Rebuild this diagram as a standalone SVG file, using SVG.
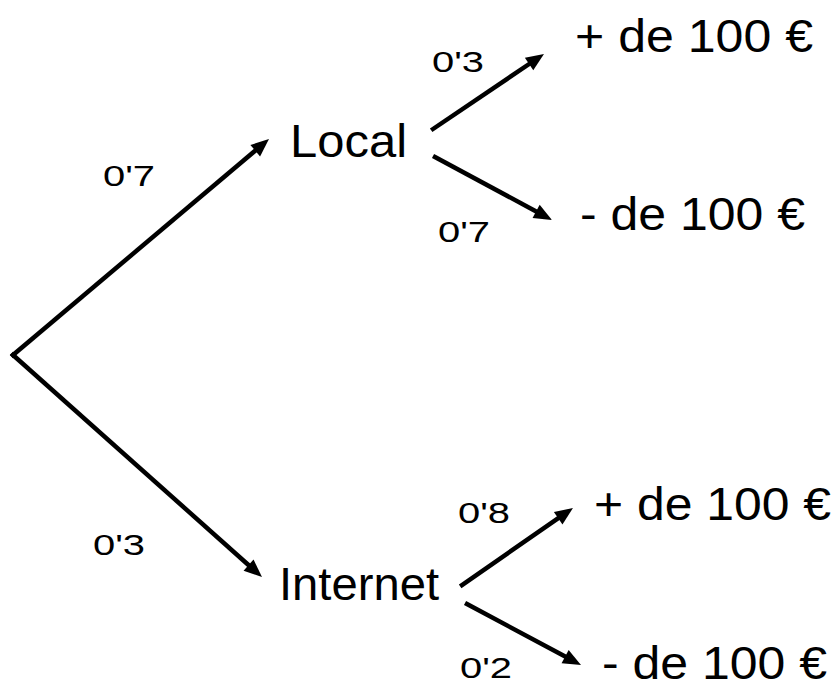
<svg xmlns="http://www.w3.org/2000/svg" width="834" height="686" viewBox="0 0 834 686">
<style>
  .big { font-family: "Liberation Sans", Arial, sans-serif; font-size: 46px; fill: #000; }
  .p { font-family: "Liberation Sans", Arial, sans-serif; font-size: 29px; fill: #000; }
  .edge { fill: none; stroke: #000; stroke-width: 4.5; stroke-linecap: square; marker-end: url(#arr); }
</style>
<defs>
  <marker id="arr" markerUnits="userSpaceOnUse" markerWidth="20" markerHeight="16" refX="1" refY="7.5" orient="auto" overflow="visible">
    <path d="M0,0 L18,7.5 L0,15 z" fill="#000"/>
  </marker>
</defs>
<rect width="834" height="686" fill="#fff"/>
<g id="connectors">
  <path class="edge" d="M13,355 L256,150"/>
  <path class="edge" d="M13,355 L249.3,565.7"/>
  <path class="edge" d="M433,129 L529.9,63.5"/>
  <path class="edge" d="M435,157 L537,211.9"/>
  <path class="edge" d="M462,585 L559,517.7"/>
  <path class="edge" d="M467,604 L566,657"/>
  <text class="p" x="103" y="186" textLength="52" lengthAdjust="spacingAndGlyphs">0'7</text>
  <text class="p" x="93" y="555" textLength="52" lengthAdjust="spacingAndGlyphs">0'3</text>
  <text class="p" x="432" y="72" textLength="52" lengthAdjust="spacingAndGlyphs">0'3</text>
  <text class="p" x="438" y="242" textLength="52" lengthAdjust="spacingAndGlyphs">0'7</text>
  <text class="p" x="458" y="523" textLength="52" lengthAdjust="spacingAndGlyphs">0'8</text>
  <text class="p" x="460" y="678" textLength="52" lengthAdjust="spacingAndGlyphs">0'2</text>
</g>
<g id="local"><text class="big" x="290" y="157" textLength="117" lengthAdjust="spacingAndGlyphs">Local</text></g>
<g id="internet"><text class="big" x="279" y="600" textLength="160" lengthAdjust="spacingAndGlyphs">Internet</text></g>
<g id="local-plus"><text class="big" x="575" y="52" textLength="238" lengthAdjust="spacingAndGlyphs">+ de 100 €</text></g>
<g id="local-minus"><text class="big" x="580" y="230" textLength="225" lengthAdjust="spacingAndGlyphs">- de 100 €</text></g>
<g id="internet-plus"><text class="big" x="594" y="520" textLength="237" lengthAdjust="spacingAndGlyphs">+ de 100 €</text></g>
<g id="internet-minus"><text class="big" x="602" y="679" textLength="225" lengthAdjust="spacingAndGlyphs">- de 100 €</text></g>
</svg>
